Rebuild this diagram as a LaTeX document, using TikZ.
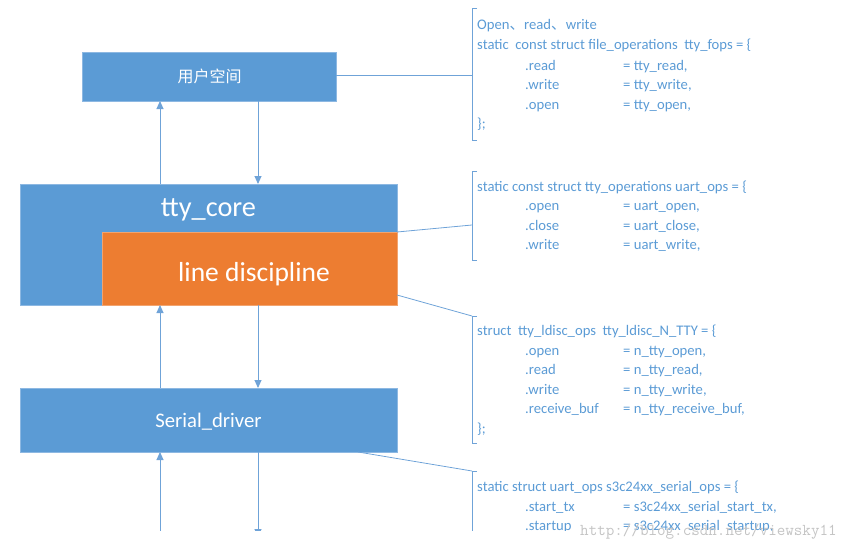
\documentclass[tikz,border=0pt]{standalone}
\usepackage{fontspec}
\setmainfont{Carlito}
\newfontfamily\cjk{Noto Sans CJK SC}
\usetikzlibrary{arrows.meta}
\definecolor{boxblue}{HTML}{5B9BD5}
\definecolor{boxorange}{HTML}{ED7D31}
\definecolor{boxedge}{HTML}{8DB8E2}
\definecolor{codeblue}{HTML}{5B9BD5}
\definecolor{linkblue}{HTML}{6FA3D8}
\definecolor{wmgray}{HTML}{C4C4C4}
\newcommand\codepair[4]{%
  \node[code] (#1a) at (525,#2) {#3};
  \node[code] (#1b) at (623,#2) {#4};}
\begin{document}
\begin{tikzpicture}[x=1pt,y=-1pt,
  bluebox/.style={draw=boxedge, fill=boxblue, line width=0.7pt, inner sep=0pt, outer sep=0pt, anchor=north west},
  orangebox/.style={draw=boxorange!70!white, fill=boxorange, line width=0.7pt, inner sep=0pt, outer sep=0pt, anchor=north west},
  boxtext/.style={text=white, inner sep=0pt},
  arr/.style={draw=linkblue, line width=0.9pt, -{Triangle[width=7pt,length=8pt]}},
  link/.style={draw=linkblue, line width=0.8pt},
  brk/.style={draw=linkblue, line width=0.8pt},
  code/.style={anchor=base west, inner sep=0pt, text=codeblue, font=\fontsize{14.65}{17}\selectfont}]
\useasboundingbox (0,0) rectangle (852,546);
\begin{scope}
\clip (0,0) rectangle (852,530);
% boxes
\node[bluebox, minimum width=254pt, minimum height=49pt] (user) at (82,52) {};
\node[boxtext, font=\cjk\fontsize{16}{18}\selectfont] (usert) at (209.5,76.5) {用户空间};
\node[bluebox, minimum width=377pt, minimum height=121pt] (core) at (20,184) {};
\node[boxtext, font=\fontsize{28.3}{30}\selectfont, anchor=base] (coret) at (208.5,216) {tty\_core};
\node[orangebox, minimum width=295pt, minimum height=73pt] (ld) at (102,232) {};
\node[boxtext, font=\fontsize{27.5}{30}\selectfont, anchor=base] (ldt) at (254,281.7) {line discipline};
\node[bluebox, minimum width=377pt, minimum height=64pt] (serial) at (20,388) {};
\node[boxtext, font=\fontsize{20.7}{23}\selectfont, anchor=base] (serialt) at (208.5,427) {Serial\_driver};
% vertical arrow lanes
\coordinate (lu) at (160,0);
\coordinate (ld0) at (258,0);
\coordinate (bot1) at (160,540);
\coordinate (bot2) at (258,537);
\draw[arr] (core.north -| lu) -- (user.south -| lu);
\draw[arr] (user.south -| ld0) -- (core.north -| ld0);
\draw[arr] (serial.north -| lu) -- (core.south -| lu);
\draw[arr] (core.south -| ld0) -- (serial.north -| ld0);
\draw[arr] (bot1) -- (serial.south -| lu);
\draw[arr] (serial.south -| ld0) -- (bot2);
% brackets
\draw[brk] (477,8) -- (472,8) -- (472,140) -- (477,140);
\draw[brk] (477,171) -- (472,171) -- (472,260) -- (477,260);
\draw[brk] (477,316) -- (472,316) -- (472,443) -- (477,443);
\draw[brk] (477,471) -- (472,471) -- (472,540);
\coordinate (c1) at (472,75);
\coordinate (c2) at (472,225);
\coordinate (c3) at (472,316);
\coordinate (c4) at (472,471);
\draw[link] (user.east |- c1) -- (c1);
\draw[link] (ld.north east) -- (c2);
\draw[link] (ld.south east) ++(0,-10) -- (c3);
\draw[link] (serial.south east) ++(-39,0) -- (c4);
% code block 1
\node[code] (h1) at (477,30) {Open{\cjk 、}read{\cjk 、}write};
\node[code] (h1b) at (477,49.7) {static\ \ const struct file\_operations\ \ tty\_fops = \{};
\codepair{r1}{70}{.read}{= tty\_read,}
\codepair{r2}{89.5}{.write}{= tty\_write,}
\codepair{r3}{109}{.open}{= tty\_open,}
\node[code] (e1) at (477,128.5) {\};};
% code block 2
\node[code] (h2) at (477,191.7) {static const struct tty\_operations uart\_ops = \{};
\codepair{s1}{210.7}{.open}{= uart\_open,}
\codepair{s2}{230}{.close}{= uart\_close,}
\codepair{s3}{249.5}{.write}{= uart\_write,}
% code block 3
\node[code] (h3) at (477,335.7) {struct\ \ tty\_ldisc\_ops\ \ tty\_ldisc\_N\_TTY = \{};
\codepair{t1}{355}{.open}{= n\_tty\_open,}
\codepair{t2}{374.5}{.read}{= n\_tty\_read,}
\codepair{t3}{394}{.write}{= n\_tty\_write,}
\codepair{t4}{413.5}{.receive\_buf}{= n\_tty\_receive\_buf,}
\node[code] (e3) at (477,433) {\};};
% code block 4
\node[code] (h4) at (477,491.7) {static struct uart\_ops s3c24xx\_serial\_ops = \{};
\codepair{u1}{511}{.start\_tx}{= s3c24xx\_serial\_start\_tx,}
\codepair{u2}{530.5}{.startup}{= s3c24xx\_serial\_startup,}
\end{scope}
\node[anchor=base west, inner sep=0pt, text=wmgray, font=\ttfamily\fontsize{16.6}{18}\selectfont] (wm) at (580,535) {http://blog.csdn.net/viewsky11};
\end{tikzpicture}
\end{document}
